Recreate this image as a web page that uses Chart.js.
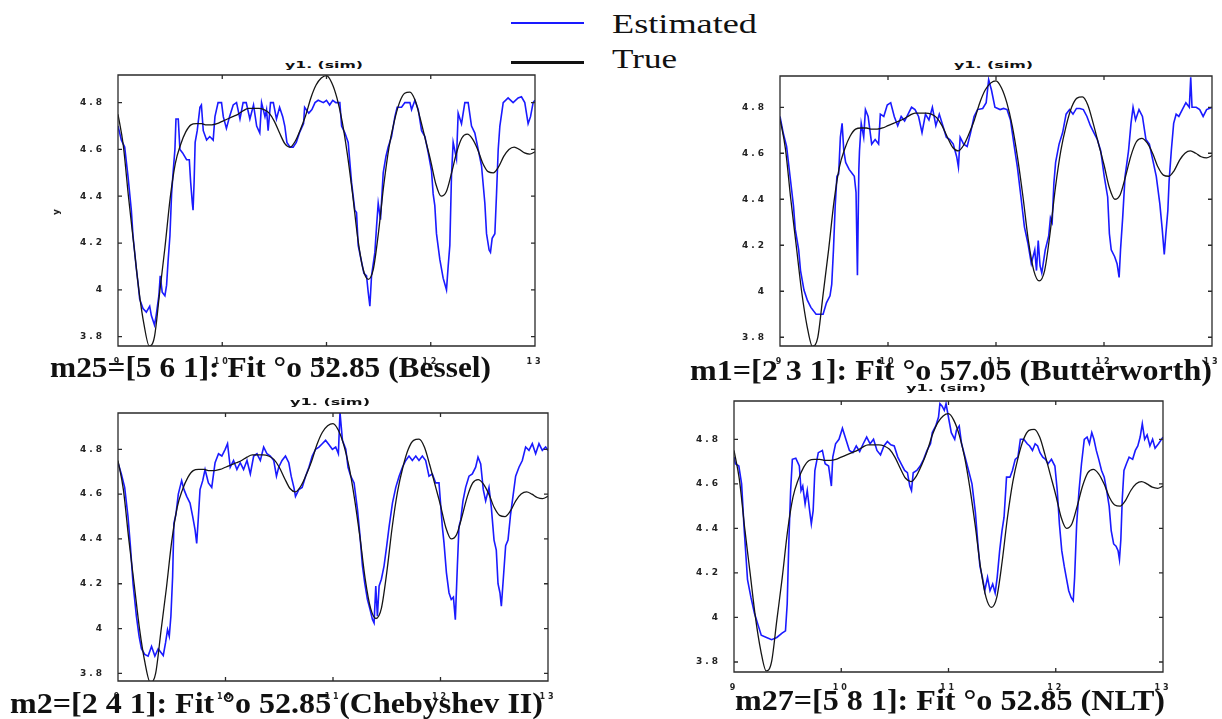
<!DOCTYPE html>
<html>
<head>
<meta charset="utf-8">
<title>Estimated vs True, y1 (sim)</title>
<script src="https://cdn.jsdelivr.net/npm/chart.js@4.4.1/dist/chart.umd.min.js"></script>
<style>
  html, body { margin: 0; padding: 0; background: #fff; overflow: hidden; }
  #page { position: relative; width: 1222px; height: 719px; overflow: hidden; }
  canvas.panel { position: absolute; }
  .txt { position: absolute; white-space: nowrap; line-height: 1; transform-origin: 0 0; color: #111; }
  .key { position: absolute; }
</style>
</head>
<body>
<div id="page"></div>
<script>
// ---------- axis ticks ----------
const xTicks = [9, 10, 11, 12, 13];
const xTickLabels = ['9', '10', '11', '12', '13'];
const yTicks = [3.8, 4, 4.2, 4.4, 4.6, 4.8];
const yTickLabels = ['3.8', '4', '4.2', '4.4', '4.6', '4.8'];

// ---------- measured output y1 (same in every panel) ----------
const trueX = [9.00, 9.05, 9.10, 9.15, 9.20, 9.25, 9.30, 9.35, 9.40, 9.45, 9.50, 9.55, 9.60, 9.65, 9.70, 9.75, 9.80, 9.85, 9.90, 9.95,
  10.00, 10.05, 10.10, 10.15, 10.20, 10.25, 10.30, 10.35, 10.40, 10.45, 10.50, 10.55, 10.60, 10.65, 10.70, 10.75, 10.80, 10.85, 10.90, 10.95,
  11.00, 11.05, 11.10, 11.15, 11.20, 11.25, 11.30, 11.35, 11.40, 11.45, 11.50, 11.55, 11.60, 11.65, 11.70, 11.75, 11.80, 11.85, 11.90, 11.95,
  12.00, 12.05, 12.10, 12.15, 12.20, 12.25, 12.30, 12.35, 12.40, 12.45, 12.50, 12.55, 12.60, 12.65, 12.70, 12.75, 12.80, 12.85, 12.90, 12.95, 13.00];
const trueY = [4.75, 4.62, 4.40, 4.20, 4.00, 3.85, 3.76, 3.80, 3.99, 4.18, 4.39, 4.54, 4.62, 4.675, 4.705, 4.71, 4.71, 4.705, 4.705, 4.71,
  4.72, 4.73, 4.74, 4.75, 4.765, 4.775, 4.775, 4.775, 4.77, 4.755, 4.72, 4.67, 4.625, 4.61, 4.635, 4.685, 4.745, 4.82, 4.875, 4.905,
  4.915, 4.885, 4.82, 4.72, 4.58, 4.41, 4.22, 4.09, 4.045, 4.09, 4.25, 4.45, 4.61, 4.72, 4.80, 4.84, 4.845, 4.81, 4.73, 4.64,
  4.55, 4.45, 4.40, 4.42, 4.50, 4.59, 4.65, 4.665, 4.645, 4.60, 4.54, 4.505, 4.50, 4.525, 4.57, 4.60, 4.61, 4.60, 4.585, 4.58, 4.59];

// ---------- estimated y1, one model per panel: [x, y] ----------
const besselEst = [[9.0,4.70],[9.032,4.64],[9.064,4.61],[9.096,4.485],[9.128,4.34],[9.144,4.23],[9.176,4.09],[9.192,4.03],[9.208,3.96],[9.24,3.92],
  [9.272,3.905],[9.304,3.93],[9.32,3.89],[9.35,3.85],[9.366,3.89],[9.392,3.975],[9.405,4.06],[9.424,3.99],[9.45,3.975],[9.466,4.02],
  [9.48,4.12],[9.498,4.23],[9.514,4.41],[9.53,4.51],[9.546,4.60],[9.556,4.73],[9.578,4.73],[9.594,4.60],[9.62,4.585],[9.658,4.556],
  [9.684,4.556],[9.697,4.46],[9.713,4.37],[9.72,4.34],[9.73,4.46],[9.74,4.63],[9.76,4.68],[9.786,4.78],[9.8,4.79],[9.818,4.68],
  [9.85,4.64],[9.88,4.655],[9.913,4.64],[9.93,4.74],[9.96,4.80],[9.993,4.80],[10.01,4.74],[10.04,4.69],[10.07,4.74],[10.105,4.79],
  [10.137,4.80],[10.17,4.73],[10.2,4.80],[10.23,4.80],[10.265,4.73],[10.3,4.79],[10.33,4.70],[10.36,4.67],[10.377,4.80],[10.41,4.74],
  [10.425,4.77],[10.44,4.68],[10.463,4.80],[10.49,4.80],[10.52,4.73],[10.55,4.78],[10.58,4.74],[10.6,4.70],[10.62,4.63],[10.65,4.61],
  [10.68,4.61],[10.71,4.63],[10.74,4.67],[10.78,4.71],[10.79,4.78],[10.83,4.755],[10.86,4.77],[10.89,4.80],[10.92,4.81],[10.97,4.80],
  [11.0,4.81],[11.03,4.79],[11.06,4.81],[11.09,4.80],[11.128,4.80],[11.145,4.70],[11.177,4.67],[11.208,4.63],[11.24,4.46],[11.272,4.34],
  [11.288,4.33],[11.304,4.19],[11.336,4.12],[11.359,4.07],[11.384,4.06],[11.4,3.99],[11.416,3.93],[11.432,4.06],[11.464,4.16],[11.48,4.27],
  [11.496,4.37],[11.518,4.30],[11.544,4.50],[11.57,4.57],[11.592,4.61],[11.624,4.655],[11.656,4.74],[11.678,4.78],[11.72,4.78],[11.752,4.80],
  [11.8,4.80],[11.816,4.77],[11.848,4.81],[11.88,4.77],[11.912,4.68],[11.944,4.655],[11.976,4.585],[12.007,4.51],[12.023,4.41],[12.039,4.36],
  [12.055,4.24],[12.087,4.13],[12.119,4.05],[12.151,4.00],[12.167,4.10],[12.183,4.19],[12.199,4.49],[12.215,4.63],[12.247,4.56],[12.263,4.755],
  [12.295,4.71],[12.327,4.80],[12.359,4.80],[12.391,4.70],[12.423,4.67],[12.455,4.60],[12.487,4.53],[12.519,4.37],[12.535,4.24],[12.56,4.17],
  [12.573,4.16],[12.589,4.22],[12.615,4.24],[12.631,4.41],[12.647,4.60],[12.663,4.70],[12.695,4.80],[12.742,4.82],[12.79,4.80],[12.838,4.82],
  [12.87,4.825],[12.902,4.80],[12.918,4.755],[12.934,4.71],[12.957,4.74],[12.982,4.80],[13.0,4.81]];

const butterEst = [[9.0,4.76],[9.029,4.69],[9.061,4.63],[9.093,4.50],[9.125,4.37],[9.141,4.27],[9.173,4.18],[9.19,4.09],[9.222,4.005],[9.254,3.96],
  [9.286,3.93],[9.334,3.90],[9.366,3.90],[9.399,3.90],[9.43,3.95],[9.463,3.98],[9.479,4.03],[9.495,4.18],[9.511,4.37],[9.527,4.50],
  [9.543,4.51],[9.559,4.67],[9.575,4.73],[9.591,4.61],[9.608,4.56],[9.64,4.53],[9.672,4.51],[9.688,4.50],[9.704,4.43],[9.717,4.07],
  [9.73,4.53],[9.736,4.61],[9.752,4.73],[9.775,4.67],[9.791,4.79],[9.816,4.76],[9.849,4.64],[9.881,4.66],[9.913,4.64],[9.929,4.77],
  [9.961,4.76],[9.993,4.81],[10.025,4.82],[10.058,4.76],[10.09,4.72],[10.122,4.76],[10.154,4.74],[10.186,4.77],[10.218,4.80],[10.25,4.79],
  [10.283,4.76],[10.315,4.69],[10.347,4.77],[10.379,4.745],[10.411,4.80],[10.443,4.72],[10.475,4.77],[10.508,4.72],[10.54,4.67],[10.572,4.66],
  [10.604,4.64],[10.636,4.585],[10.652,4.54],[10.668,4.67],[10.70,4.64],[10.733,4.63],[10.765,4.69],[10.797,4.76],[10.829,4.79],[10.877,4.795],
  [10.909,4.82],[10.932,4.92],[10.958,4.875],[10.99,4.80],[11.038,4.79],[11.07,4.795],[11.102,4.79],[11.134,4.745],[11.166,4.64],[11.198,4.54],
  [11.231,4.41],[11.263,4.28],[11.295,4.21],[11.327,4.12],[11.359,4.18],[11.375,4.09],[11.391,4.22],[11.408,4.11],[11.424,4.08],[11.456,4.18],
  [11.488,4.24],[11.504,4.32],[11.52,4.30],[11.536,4.47],[11.552,4.56],[11.584,4.64],[11.617,4.69],[11.649,4.77],[11.681,4.79],[11.713,4.77],
  [11.745,4.795],[11.777,4.795],[11.809,4.79],[11.842,4.76],[11.874,4.72],[11.906,4.69],[11.938,4.66],[11.97,4.61],[12.002,4.50],[12.034,4.41],
  [12.05,4.25],[12.067,4.18],[12.099,4.15],[12.121,4.12],[12.14,4.06],[12.153,4.18],[12.173,4.32],[12.195,4.50],[12.227,4.61],[12.25,4.73],
  [12.269,4.80],[12.292,4.745],[12.324,4.79],[12.356,4.76],[12.388,4.66],[12.42,4.64],[12.452,4.57],[12.484,4.50],[12.517,4.38],[12.539,4.27],
  [12.558,4.16],[12.571,4.24],[12.591,4.35],[12.603,4.48],[12.623,4.61],[12.645,4.73],[12.668,4.77],[12.693,4.76],[12.725,4.79],[12.758,4.82],
  [12.79,4.80],[12.803,4.93],[12.815,4.80],[12.854,4.80],[12.886,4.79],[12.918,4.76],[12.95,4.79],[13.0,4.80]];

const chebyEst = [[9.0,4.74],[9.031,4.69],[9.062,4.63],[9.093,4.50],[9.115,4.37],[9.14,4.20],[9.171,4.055],[9.196,3.966],[9.218,3.91],[9.249,3.885],
  [9.28,3.877],[9.312,3.92],[9.343,3.877],[9.374,3.91],[9.421,3.88],[9.442,3.936],[9.461,3.995],[9.477,3.966],[9.492,4.055],[9.508,4.23],
  [9.52,4.47],[9.539,4.51],[9.561,4.60],[9.592,4.66],[9.614,4.62],[9.639,4.59],[9.67,4.56],[9.695,4.50],[9.717,4.44],[9.732,4.38],
  [9.748,4.50],[9.763,4.62],[9.788,4.66],[9.81,4.71],[9.841,4.65],[9.872,4.63],[9.903,4.74],[9.935,4.78],[9.966,4.77],[9.997,4.80],
  [10.019,4.825],[10.044,4.72],[10.075,4.75],[10.106,4.71],[10.137,4.74],[10.168,4.71],[10.2,4.75],[10.231,4.69],[10.262,4.77],[10.293,4.78],
  [10.324,4.75],[10.355,4.81],[10.386,4.78],[10.417,4.77],[10.449,4.75],[10.474,4.68],[10.495,4.72],[10.526,4.75],[10.558,4.77],[10.589,4.74],
  [10.611,4.68],[10.636,4.63],[10.651,4.59],[10.682,4.62],[10.713,4.63],[10.745,4.68],[10.776,4.72],[10.807,4.77],[10.838,4.80],[10.869,4.81],
  [10.9,4.825],[10.931,4.84],[10.963,4.82],[10.994,4.80],[11.025,4.81],[11.05,4.78],[11.065,4.965],[11.088,4.84],[11.119,4.80],[11.14,4.72],
  [11.165,4.68],[11.196,4.65],[11.228,4.53],[11.249,4.425],[11.274,4.28],[11.296,4.20],[11.32,4.13],[11.345,4.085],[11.367,4.04],[11.382,4.025],
  [11.398,4.19],[11.413,4.055],[11.429,4.19],[11.45,4.22],[11.475,4.28],[11.50,4.37],[11.522,4.455],[11.553,4.56],[11.584,4.63],[11.615,4.68],
  [11.646,4.72],[11.677,4.75],[11.707,4.77],[11.738,4.75],[11.77,4.77],[11.80,4.75],[11.831,4.77],[11.862,4.75],[11.893,4.68],[11.924,4.69],
  [11.955,4.65],[11.986,4.65],[12.017,4.455],[12.033,4.38],[12.055,4.25],[12.079,4.16],[12.10,4.13],[12.12,4.14],[12.138,4.04],[12.157,4.28],
  [12.172,4.455],[12.188,4.485],[12.209,4.57],[12.234,4.63],[12.265,4.68],[12.296,4.69],[12.327,4.72],[12.349,4.765],[12.374,4.735],[12.398,4.62],
  [12.42,4.57],[12.451,4.63],[12.473,4.54],[12.498,4.395],[12.519,4.35],[12.535,4.20],[12.553,4.16],[12.566,4.10],[12.584,4.22],[12.606,4.37],
  [12.628,4.395],[12.652,4.51],[12.677,4.60],[12.699,4.68],[12.73,4.72],[12.761,4.75],[12.792,4.81],[12.823,4.795],[12.854,4.825],[12.885,4.78],
  [12.916,4.825],[12.947,4.795],[12.978,4.81],[13.0,4.795]];

const nltEst = [[9.0,4.72],[9.013,4.69],[9.045,4.68],[9.071,4.60],[9.093,4.41],[9.126,4.17],[9.158,4.09],[9.19,4.02],[9.222,3.97],[9.254,3.92],
  [9.303,3.91],[9.351,3.90],[9.399,3.91],[9.448,3.93],[9.48,3.94],[9.496,4.06],[9.512,4.35],[9.528,4.57],[9.544,4.71],[9.576,4.715],
  [9.609,4.68],[9.625,4.57],[9.641,4.59],[9.663,4.51],[9.683,4.57],[9.705,4.48],[9.721,4.42],[9.738,4.48],[9.754,4.66],[9.786,4.74],
  [9.824,4.75],[9.85,4.69],[9.882,4.68],[9.908,4.59],[9.921,4.72],[9.947,4.78],[9.979,4.80],[10.011,4.85],[10.043,4.80],[10.076,4.75],
  [10.108,4.74],[10.14,4.77],[10.172,4.745],[10.205,4.78],[10.237,4.81],[10.269,4.78],[10.301,4.80],[10.333,4.75],[10.366,4.73],[10.398,4.77],
  [10.43,4.79],[10.462,4.775],[10.494,4.77],[10.527,4.72],[10.559,4.69],[10.591,4.66],[10.617,4.65],[10.639,4.59],[10.655,4.57],[10.671,4.65],
  [10.704,4.66],[10.736,4.68],[10.768,4.71],[10.80,4.75],[10.832,4.78],[10.849,4.83],[10.881,4.86],[10.907,4.90],[10.92,4.96],[10.939,4.95],
  [10.961,4.93],[10.977,4.96],[11.003,4.89],[11.026,4.83],[11.058,4.80],[11.074,4.84],[11.10,4.86],[11.122,4.78],[11.155,4.72],[11.187,4.66],
  [11.219,4.60],[11.251,4.47],[11.274,4.33],[11.293,4.23],[11.316,4.18],[11.338,4.12],[11.364,4.18],[11.387,4.12],[11.412,4.15],[11.435,4.11],
  [11.454,4.18],[11.477,4.30],[11.499,4.39],[11.518,4.45],[11.541,4.63],[11.573,4.63],[11.596,4.66],[11.622,4.71],[11.647,4.72],[11.67,4.80],
  [11.702,4.80],[11.734,4.78],[11.757,4.77],[11.783,4.75],[11.808,4.78],[11.831,4.77],[11.853,4.74],[11.879,4.72],[11.905,4.71],[11.928,4.69],
  [11.96,4.71],[11.992,4.68],[12.014,4.57],[12.034,4.42],[12.056,4.30],[12.079,4.23],[12.098,4.18],[12.121,4.12],[12.143,4.09],[12.163,4.075],
  [12.176,4.18],[12.195,4.42],[12.217,4.57],[12.24,4.69],[12.266,4.80],[12.292,4.81],[12.314,4.78],[12.336,4.83],[12.356,4.80],[12.378,4.75],
  [12.401,4.71],[12.427,4.66],[12.452,4.63],[12.475,4.57],[12.498,4.50],[12.517,4.39],[12.54,4.33],[12.562,4.32],[12.581,4.30],[12.594,4.26],
  [12.607,4.35],[12.62,4.53],[12.636,4.66],[12.659,4.69],[12.684,4.72],[12.717,4.71],[12.742,4.75],[12.765,4.77],[12.787,4.81],[12.807,4.87],
  [12.829,4.80],[12.852,4.82],[12.878,4.77],[12.903,4.80],[12.926,4.76],[12.958,4.78],[13.0,4.81]];

// ---------- page layout ----------
const PAD_L = 70, PAD_T = 5, PAD_R = 8, AXIS_H = 18;
const panels = [
  { est: besselEst, area: [118, 75, 535, 346], yRange: [3.76, 4.918],
    caption: 'm25=[5 6 1]: Fit °o 52.85 (Bessel)', capBox: [50, 441, 377], titleBox: [285, 78, 68], yName: [56, 212] },
  { est: butterEst, area: [780, 76, 1212, 346], yRange: [3.762, 4.936],
    caption: 'm1=[2 3 1]: Fit °o 57.05 (Butterworth)', capBox: [690, 522, 380], titleBox: [954, 79, 68] },
  { est: chebyEst, area: [118, 413, 548, 681], yRange: [3.766, 4.962],
    caption: 'm2=[2 4 1]: Fit °o 52.85 (Chebyshev II)', capBox: [10, 533, 713], titleBox: [290, 80, 405] },
  { est: nltEst, area: [734, 401, 1163, 672], yRange: [3.755, 4.972],
    caption: 'm27=[5 8 1]: Fit °o 52.85 (NLT)', capBox: [735, 430, 710], titleBox: [906, 80, 391] }
];

const page = document.getElementById('page');
const measureCtx = document.createElement('canvas').getContext('2d');

// text placed by left edge, target width and baseline
function placeText(str, left, width, baseline, size, family, weight) {
  const el = document.createElement('div');
  el.className = 'txt';
  el.textContent = str;
  const font = `${weight} ${size}px ${family}`;
  el.style.font = font;
  el.style.lineHeight = size + 'px';
  measureCtx.font = font;
  const m = measureCtx.measureText(str);
  const asc = m.fontBoundingBoxAscent, desc = m.fontBoundingBoxDescent;
  const top = baseline - ((size - asc - desc) / 2 + asc);
  el.style.left = left + 'px';
  el.style.top = top + 'px';
  el.style.transform = `scaleX(${width / m.width})`;
  page.appendChild(el);
  return el;
}

// box outline with inward tick marks on all four sides
const framePlugin = {
  id: 'frame',
  beforeDraw(chart) { chart.ctx.letterSpacing = '3px'; },
  afterDatasetsDraw(chart) {
    const { ctx, chartArea: a, scales } = chart;
    ctx.save();
    ctx.letterSpacing = '0px';
    ctx.strokeStyle = '#2a2a2a';
    ctx.lineWidth = 1.3;
    ctx.beginPath();
    ctx.rect(a.left, a.top, a.right - a.left, a.bottom - a.top);
    const t = 4;
    xTicks.forEach(v => {
      const px = scales.x.getPixelForValue(v);
      ctx.moveTo(px, a.bottom); ctx.lineTo(px, a.bottom - t);
      ctx.moveTo(px, a.top); ctx.lineTo(px, a.top + t);
    });
    yTicks.forEach(v => {
      const py = scales.y.getPixelForValue(v);
      ctx.moveTo(a.left, py); ctx.lineTo(a.left + t, py);
      ctx.moveTo(a.right, py); ctx.lineTo(a.right - t, py);
    });
    ctx.stroke();
    ctx.restore();
  }
};

const tickFont = { family: 'DejaVu Sans', weight: 'bold' };

function makePanel(p) {
  const [l, t, r, b] = p.area;
  const w = r - l + PAD_L + PAD_R;
  const h = b - t + PAD_T + AXIS_H;
  const canvas = document.createElement('canvas');
  canvas.className = 'panel';
  canvas.width = w; canvas.height = h;
  canvas.style.left = (l - PAD_L) + 'px';
  canvas.style.top = (t - PAD_T) + 'px';
  canvas.style.width = w + 'px';
  canvas.style.height = h + 'px';
  page.appendChild(canvas);

  const truePts = trueX.map((x, i) => ({ x, y: trueY[i] }));
  const estPts = p.est.map(([x, y]) => ({ x, y }));

  new Chart(canvas, {
    type: 'line',
    data: {
      datasets: [
        { label: 'True', data: truePts, borderColor: '#151515', borderWidth: 1.3,
          pointRadius: 0, cubicInterpolationMode: 'monotone', fill: false },
        { label: 'Estimated', data: estPts, borderColor: '#1a1aff', borderWidth: 1.6,
          pointRadius: 0, tension: 0, fill: false }
      ]
    },
    options: {
      responsive: false,
      animation: false,
      devicePixelRatio: 1,
      layout: { padding: { left: 0, top: PAD_T, right: PAD_R, bottom: 0 } },
      plugins: { legend: { display: false }, tooltip: { enabled: false } },
      scales: {
        x: {
          type: 'linear', min: 9, max: 13,
          grid: { display: false }, border: { display: false },
          afterBuildTicks: s => { s.ticks = xTicks.map(v => ({ value: v })); },
          afterFit: s => { s.height = AXIS_H; s.paddingLeft = 0; s.paddingRight = 0; },
          ticks: { font: { ...tickFont, size: 8 }, color: '#222', padding: 3,
                   maxRotation: 0, autoSkip: false, callback: (v, i) => xTickLabels[i] }
        },
        y: {
          type: 'linear', min: p.yRange[0], max: p.yRange[1],
          grid: { display: false }, border: { display: false },
          afterBuildTicks: s => { s.ticks = yTicks.map(v => ({ value: v })); },
          afterFit: s => { s.width = PAD_L; s.paddingTop = 0; s.paddingBottom = 0; },
          ticks: { font: { ...tickFont, size: 9 }, color: '#222', padding: 5,
                   autoSkip: false, callback: (v, i) => yTickLabels[i] }
        }
      }
    },
    plugins: [framePlugin]
  });
}

panels.forEach(makePanel);

// panel titles, captions and the y label
panels.forEach(p => {
  const [tl, tw, tb] = p.titleBox;
  placeText('y1. (sim)', tl, tw, tb, 9, '"DejaVu Sans"', 'bold');
  const [cl, cw, cb] = p.capBox;
  placeText(p.caption, cl, cw, cb, 29, '"Liberation Serif"', 'bold');
  if (p.yName) {
    const el = document.createElement('div');
    el.className = 'txt';
    el.textContent = 'y';
    el.style.font = 'bold 9px "DejaVu Sans"';
    el.style.left = (p.yName[0] - 3) + 'px';
    el.style.top = (p.yName[1] - 5) + 'px';
    el.style.transformOrigin = '50% 50%';
    el.style.transform = 'rotate(-90deg)';
    page.appendChild(el);
  }
});

// legend
function keyLine(top, height, color) {
  const d = document.createElement('div');
  d.className = 'key';
  d.style.left = '511px'; d.style.width = '73px';
  d.style.top = top + 'px'; d.style.height = height + 'px';
  d.style.background = color;
  page.appendChild(d);
}
keyLine(21.5, 2.5, '#1a1aff');
keyLine(61.3, 2.8, '#111');
placeText('Estimated', 612, 145, 33, 27, '"Liberation Serif"', 'normal');
placeText('True', 612, 65, 68, 27, '"Liberation Serif"', 'normal');
</script>
</body>
</html>
